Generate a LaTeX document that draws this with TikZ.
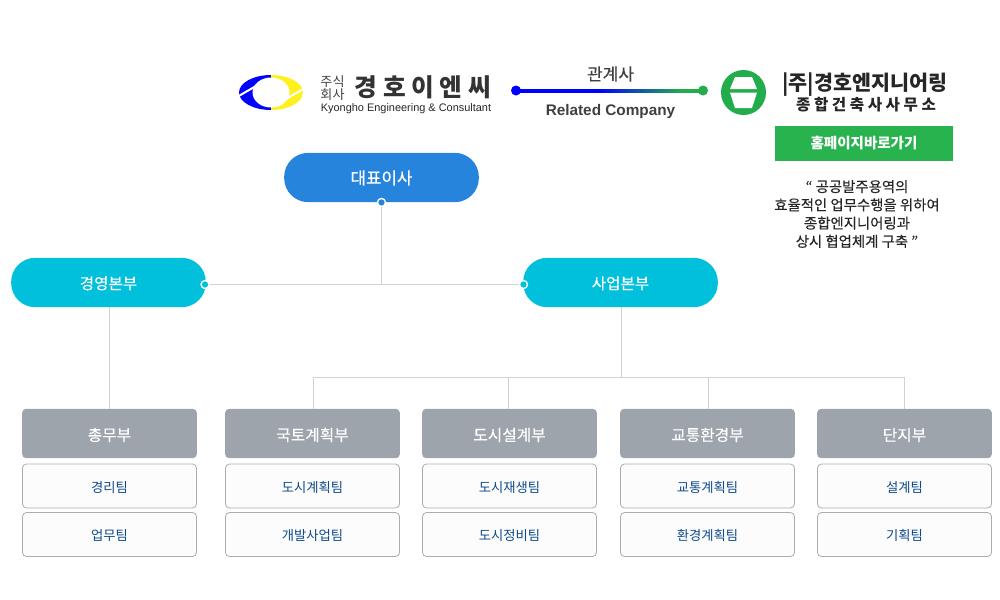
\documentclass[tikz,border=0pt]{standalone}
\usepackage{fontspec}
\setmainfont{Noto Sans CJK KR}
\newfontfamily\medfont[FakeBold=0.25]{Noto Sans CJK KR}
\newfontfamily\latinfont{Liberation Sans}
\usetikzlibrary{shadings}
\definecolor{bossblue}{HTML}{2784DC}
\definecolor{partcyan}{HTML}{00C0DC}
\definecolor{deptgray}{HTML}{9EA4AC}
\definecolor{teamtext}{HTML}{0F4A8A}
\definecolor{linkgreen}{HTML}{22AC4C}
\definecolor{btngreen}{HTML}{29B34E}
\definecolor{linegray}{HTML}{D2D2D2}
\definecolor{logoyellow}{HTML}{FFF01E}
\pgfdeclarehorizontalshading{rellink}{100bp}{color(0bp)=(blue); color(47bp)=(blue); color(69bp)=(linkgreen); color(100bp)=(linkgreen)}
\tikzstyle{boss} = [rectangle, rounded corners=18pt, minimum width=146pt, minimum height=37pt, text=white, inner sep=0pt, text height=11pt, text depth=1pt, font=\medfont\fontsize{12.6}{12.6}\selectfont]
\tikzstyle{dept} = [rectangle, fill=deptgray, rounded corners=3pt, minimum width=131pt, minimum height=37pt, text=white, inner sep=0pt, text height=11.5pt, text depth=0.5pt, font=\medfont\fontsize{11.8}{11.8}\selectfont]
\tikzstyle{team} = [rectangle, draw=black!32, fill=black!1, line width=0.6pt, rounded corners=3pt, minimum width=130.5pt, minimum height=33pt, text=teamtext, inner sep=0pt, text height=10pt, text depth=1pt, font=\fontsize{10}{10}\selectfont]
\tikzstyle{link} = [linegray, line width=0.75pt]
\tikzstyle{dot} = [circle, draw=white, line width=1pt, inner sep=0pt, minimum size=6pt]
\begin{document}
\begin{tikzpicture}[x=0.75pt, y=-0.75pt]
\useasboundingbox (0,0) rectangle (1000,600);
% connectors
\node [boss, fill=bossblue] (ceo) at (381.5,177.5) {대표이사};
\node [boss, fill=partcyan, font=\medfont\fontsize{11.7}{11.7}\selectfont] (admin) at (108.5,282.5) {경영본부};
\node [boss, fill=partcyan, font=\medfont\fontsize{11.7}{11.7}\selectfont] (biz) at (620.5,282.5) {사업본부};
\node [dept] (general) at (109.5,433.5) {총무부};
\node [dept] (land) at (312.5,433.5) {국토계획부};
\node [dept] (city) at (509.5,433.5) {도시설계부};
\node [dept] (traffic) at (707.5,433.5) {교통환경부};
\node [dept] (estate) at (904.5,433.5) {단지부};
\coordinate (junction) at (381.5,284.5);
\coordinate (adminport) at (205,284.5);
\coordinate (bizport) at (523.5,284.5);
\coordinate (bus) at (621,377.5);
\coordinate (landdrop) at (313,409);
\coordinate (citydrop) at (508.5,409);
\coordinate (trafficdrop) at (708.5,409);
\draw [link] (adminport) -- (bizport);
\draw [link] (ceo.south) -- (junction);
\draw [link] (general.north |- admin.south) -- (general.north);
\draw [link] (bus |- biz.south) -- (bus);
\draw [link] (landdrop) |- (bus) -| (estate.north);
\draw [link] (citydrop) -- (citydrop |- bus);
\draw [link] (trafficdrop) -- (trafficdrop |- bus);
\node [dot, fill=bossblue] (ceodot) at (ceo.south) {};
\node [dot, fill=partcyan] (admindot) at (adminport) {};
\node [dot, fill=partcyan] (bizdot) at (bizport) {};
% teams
\node [team] (t1) at (109.5,486) {경리팀};
\node [team] (t2) at (109.5,534.5) {업무팀};
\node [team] (t3) at (312.5,486) {도시계획팀};
\node [team] (t4) at (312.5,534.5) {개발사업팀};
\node [team] (t5) at (509.5,486) {도시재생팀};
\node [team] (t6) at (509.5,534.5) {도시정비팀};
\node [team] (t7) at (707.5,486) {교통계획팀};
\node [team] (t8) at (707.5,534.5) {환경계획팀};
\node [team] (t9) at (904.5,486) {설계팀};
\node [team] (t10) at (904.5,534.5) {기획팀};
% left logo
\begin{scope}
\clip (271,92.5) ellipse (32 and 17.5);
\fill [blue] (239,75) rectangle (271,110);
\fill [logoyellow] (271,75) rectangle (303,110);
\end{scope}
\fill [white] (271,92.5) ellipse (18.5 and 15);
\draw [white, line width=1.5pt] (237,97) -- (256,86);
\draw [white, line width=1.5pt] (286,99) -- (305,88);
\node [font=\fontsize{9.8}{10}\selectfont, text=black!75, align=center, inner sep=0pt] (jusik) at (332.5,88) {주식\\회사};
\node [font=\bfseries\fontsize{18.5}{18.5}\selectfont, text=black!80, inner sep=0pt] (kname) at (423,87) {경 호 이 엔 씨};
\node [font=\latinfont\fontsize{8.2}{8.2}\selectfont, text=black!85, inner sep=0pt] (ename) at (406,109) {Kyongho Engineering \& Consultant};
% relation
\node [circle, fill=blue, inner sep=0pt, minimum size=7.5pt] (relfrom) at (516,90.5) {};
\node [circle, fill=linkgreen, inner sep=0pt, minimum size=7.5pt] (relto) at (703,90.5) {};
\shade [shading=rellink] (516,89) rectangle (703,92);
\node [font=\medfont\fontsize{12.8}{12.8}\selectfont, text=black!75, inner sep=0pt] (reltop) at (610.5,74) {관계사};
\node [font=\latinfont\bfseries\fontsize{11.5}{11.5}\selectfont, text=black!75, inner sep=0pt] (relbot) at (610.5,111.5) {Related Company};
% right logo
\fill [linkgreen] (743.5,92.5) circle (22.5);
\fill [white] (735,77) -- (752,77) -- (757,89) -- (730,89) -- cycle;
\fill [white] (730,92.5) -- (757,92.5) -- (752,108) -- (735,108) -- cycle;
\node [font=\fontsize{15.5}{15.5}\selectfont\bfseries, text=black!85, inner sep=0pt] (gname) at (865,85) {|주|경호엔지니어링};
\node [font=\fontsize{11.7}{11.7}\selectfont\bfseries, text=black!85, inner sep=0pt] (gsub) at (866,104.5) {종 합 건 축 사 사 무 소};
\node [rectangle, fill=btngreen, text=white, minimum width=133.5pt, minimum height=26.5pt, inner sep=0pt, font=\fontsize{10.9}{10.9}\selectfont\bfseries] (homebtn) at (864,143.5) {홈페이지바로가기};
\node [font=\medfont\fontsize{10.8}{13.7}\selectfont, text=black!85, align=center, inner sep=0pt] (slogan) at (857,214) {“ 공공발주용역의\\효율적인 업무수행을 위하여\\종합엔지니어링과\\상시 협업체계 구축 ”};
\end{tikzpicture}
\end{document}
